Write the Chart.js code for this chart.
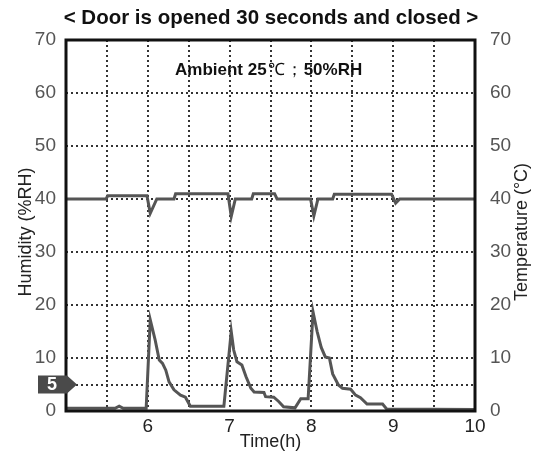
<!DOCTYPE html>
<html>
<head>
<meta charset="utf-8">
<script src="https://cdn.jsdelivr.net/npm/chart.js@4/dist/chart.umd.min.js"></script>
<style>
    html, body { margin: 0; padding: 0; background: #ffffff; }
    #wrap { width: 538px; height: 457px; }
</style>
</head>
<body>
<div id="wrap"><canvas id="doorChart" width="538" height="457"></canvas></div>
<script>
// Humidity curve (%RH)
const humTimes = [5.0, 5.6, 5.65, 5.7, 5.98, 6.03, 6.09, 6.14, 6.18, 6.22, 6.26, 6.32, 6.4, 6.46, 6.52, 6.93,
    7.02, 7.05, 7.09, 7.15, 7.2, 7.26, 7.3, 7.42, 7.44, 7.54, 7.6, 7.66, 7.8, 7.87, 7.96,
    8.02, 8.07, 8.12, 8.17, 8.22, 8.26, 8.33, 8.38, 8.48, 8.54, 8.6, 8.68, 8.87, 8.92, 10.0];
const humValues = [0.5, 0.5, 0.9, 0.5, 0.5, 17.2, 13.4, 9.6, 9.0, 7.7, 5.5, 4.0, 3.0, 2.6, 0.9, 0.9,
    15.0, 11.5, 9.3, 8.7, 6.5, 4.3, 3.6, 3.5, 2.7, 2.6, 1.8, 0.8, 0.6, 2.3, 2.3,
    18.7, 15.0, 12.0, 10.2, 10.0, 7.0, 4.9, 4.3, 4.1, 3.0, 2.5, 1.3, 1.3, 0.4, 0.3];

// Temperature curve (°C)
const tempTimes = [5.0, 5.49, 5.51, 5.99, 6.03, 6.11, 6.32, 6.34, 6.98, 7.02, 7.07, 7.27, 7.29, 7.55, 7.58,
    7.99, 8.03, 8.08, 8.26, 8.28, 8.98, 9.03, 9.08, 10.0];
const tempValues = [40, 40, 40.6, 40.6, 37.3, 40, 40, 41, 41, 36.7, 40, 40, 41, 41, 40,
    40, 36.8, 40, 40, 40.9, 40.9, 39.2, 40, 40];

// Axis ticks
const yTicks = [0, 5, 10, 20, 30, 40, 50, 60, 70];
const markerValue = 5;

const titleText = "< Door is opened 30 seconds and closed >";
const noteParts = [
    { text: "Ambient 25", bold: true },
    { text: "℃", bold: false },
    { text: "；", bold: false },
    { text: "50%RH", bold: true },
];
const xTitle = "Time(h)";
const yTitle = "Humidity (%RH)";
const y1Title = "Temperature (°C)";

const FONT = "'Liberation Sans', Arial, sans-serif";
const LINE = "#555555";
const TICK = "#555555";

function toPoints(xs, ys) {
    return xs.map((x, i) => ({ x: x, y: ys[i] }));
}

// draws the title, the note, the axis titles, the frame and the "5" marker
const decorPlugin = {
    id: "decor",
    afterDraw(chart) {
        const ctx = chart.ctx;
        const area = chart.chartArea;
        const midY = 232;
        ctx.save();

        // frame
        ctx.strokeStyle = "#111111";
        ctx.lineWidth = 3;
        ctx.strokeRect(area.left, area.top, area.right - area.left, area.bottom - area.top);

        // title
        ctx.fillStyle = "#111111";
        ctx.font = "bold 20.5px " + FONT;
        ctx.textAlign = "center";
        ctx.textBaseline = "middle";
        ctx.fillText(titleText, 271, 18);

        // note
        let x = 175;
        ctx.textAlign = "left";
        noteParts.forEach((p) => {
            ctx.font = (p.bold ? "bold " : "") + "17px " + FONT;
            ctx.fillText(p.text, x, 70);
            x += ctx.measureText(p.text).width + 1;
        });

        // axis titles
        ctx.fillStyle = "#222222";
        ctx.font = "18px " + FONT;
        ctx.textAlign = "center";
        ctx.fillText(xTitle, (area.left + area.right) / 2, 442);
        [[26, yTitle], [522, y1Title]].forEach(([tx, t]) => {
            ctx.save();
            ctx.translate(tx, midY);
            ctx.rotate(-Math.PI / 2);
            ctx.fillText(t, 0, 0);
            ctx.restore();
        });

        // marker at y = 5
        const yPix = chart.scales.y.getPixelForValue(markerValue);
        ctx.fillStyle = "#4a4a4a";
        ctx.beginPath();
        ctx.moveTo(38, yPix - 9);
        ctx.lineTo(67, yPix - 9);
        ctx.lineTo(77, yPix);
        ctx.lineTo(67, yPix + 9);
        ctx.lineTo(38, yPix + 9);
        ctx.closePath();
        ctx.fill();
        ctx.fillStyle = "#ffffff";
        ctx.font = "bold 18px " + FONT;
        ctx.fillText(String(markerValue), 52, yPix + 1);

        ctx.restore();
    },
};

const gridOpts = {
    color: "#333333",
    lineWidth: 2,
    drawTicks: false,
};

new Chart(document.getElementById("doorChart"), {
    type: "line",
    data: {
        datasets: [
            {
                label: "Humidity",
                data: toPoints(humTimes, humValues),
                borderColor: LINE,
                borderWidth: 3,
                pointRadius: 0,
                tension: 0,
                yAxisID: "y",
            },
            {
                label: "Temperature",
                data: toPoints(tempTimes, tempValues),
                borderColor: LINE,
                borderWidth: 3,
                pointRadius: 0,
                tension: 0,
                yAxisID: "y1",
            },
        ],
    },
    options: {
        responsive: false,
        animation: false,
        layout: { padding: { top: 40, left: 0, right: 0, bottom: 0 } },
        plugins: {
            legend: { display: false },
            tooltip: { enabled: false },
        },
        scales: {
            x: {
                type: "linear",
                min: 5,
                max: 10,
                ticks: {
                    stepSize: 0.5,
                    color: "#222222",
                    font: { family: FONT, size: 19 },
                    padding: 4,
                    maxRotation: 0,
                    autoSkip: false,
                    callback: (v) => (Number.isInteger(v) && v > 5 ? v : ""),
                },
                grid: gridOpts,
                border: { display: false, dash: [2, 3] },
                afterFit: (s) => { s.height = 46; },
            },
            y: {
                position: "left",
                min: 0,
                max: 70,
                afterBuildTicks: (s) => { s.ticks = yTicks.map((v) => ({ value: v })); },
                ticks: {
                    color: TICK,
                    font: { family: FONT, size: 19 },
                    padding: 10,
                    callback: (v) => (v === markerValue ? "" : v),
                },
                grid: gridOpts,
                border: { display: false, dash: [2, 3] },
                afterFit: (s) => { s.width = 66; },
            },
            y1: {
                position: "right",
                min: 0,
                max: 70,
                afterBuildTicks: (s) => { s.ticks = yTicks.map((v) => ({ value: v })); },
                ticks: {
                    color: TICK,
                    font: { family: FONT, size: 19 },
                    padding: 7,
                    callback: (v) => (v === markerValue ? "" : v),
                },
                grid: { display: false },
                border: { display: false },
                afterFit: (s) => { s.width = 63; },
            },
        },
    },
    plugins: [decorPlugin],
});
</script>
</body>
</html>
